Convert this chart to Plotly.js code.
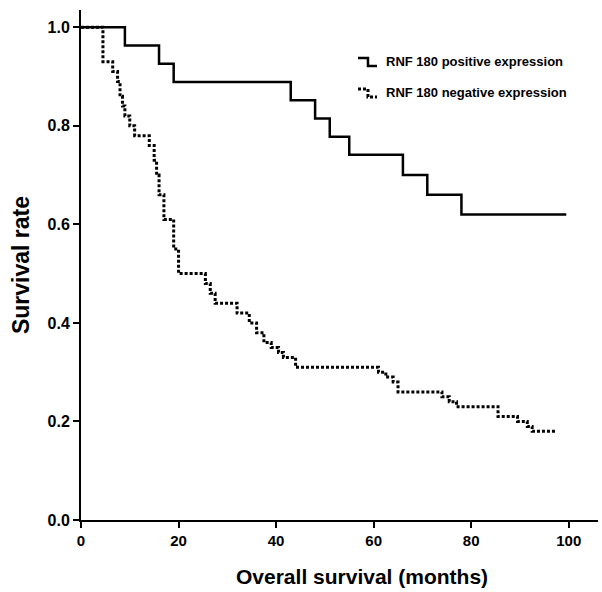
<!DOCTYPE html>
<html>
<head>
<meta charset="utf-8">
<script src="https://cdn.plot.ly/plotly-3.0.1.min.js"></script>
<style>html,body{margin:0;padding:0;background:#fff;}#chart{width:602px;height:592px;}</style>
</head>
<body>
<div id="chart"></div>
<script>
// RNF 180 positive expression (Kaplan-Meier steps)
const posTime = [0, 9, 16, 19, 43, 48, 51, 55, 66, 71, 78, 99.5];
const posSurv = [1.0, 0.963, 0.926, 0.889, 0.852, 0.815, 0.778, 0.741, 0.70, 0.66, 0.62, 0.62];

// RNF 180 negative expression
const negTime = [0, 4.5, 6.5, 7.5, 8, 8.5, 9, 10, 11, 12.5, 14, 15, 15.5, 16, 17, 19, 20, 25.5, 26.5, 27.5, 32, 34.5, 36, 37.5, 39, 40.5, 41.5, 44, 61, 62.5, 64, 65, 74, 75.5, 77, 85.5, 89.5, 91.5, 92.5, 97.3];
const negSurv = [1.0, 0.93, 0.91, 0.89, 0.86, 0.84, 0.82, 0.80, 0.78, 0.78, 0.76, 0.73, 0.70, 0.66, 0.61, 0.55, 0.50, 0.48, 0.46, 0.44, 0.42, 0.40, 0.38, 0.36, 0.35, 0.34, 0.33, 0.31, 0.30, 0.29, 0.28, 0.26, 0.25, 0.24, 0.23, 0.21, 0.20, 0.19, 0.18, 0.18];

const seriesNames = ["RNF 180 positive expression", "RNF 180 negative expression"];
const xTitle = "Overall survival (months)";
const yTitle = "Survival rate";
const xTicks = [0, 20, 40, 60, 80, 100];
const yTicks = [0, 0.2, 0.4, 0.6, 0.8, 1.0];

const FONT = "Liberation Sans, Arial, sans-serif";

const traces = [
  {x: posTime, y: posSurv, mode: "lines", line: {shape: "hv", color: "#000", width: 2.5}, name: seriesNames[0], showlegend: false},
  {x: negTime, y: negSurv, mode: "lines", line: {shape: "hv", color: "#000", width: 3, dash: "3px,2px"}, name: seriesNames[1], showlegend: false}
];

// legend drawn manually (pixel -> paper helper)
const L = 81, R = 598, T = 10, B = 520;
const px = X => (X - L) / (R - L);
const py = Y => (B - Y) / (B - T);
function stepPath(y0) {
  const pts = [[358, y0 - 4], [368, y0 - 4], [368, y0 + 4], [377, y0 + 4]];
  return "M" + pts.map(p => px(p[0]).toFixed(4) + "," + py(p[1]).toFixed(4)).join(" L");
}

const layout = {
  width: 602, height: 592,
  paper_bgcolor: "#fff", plot_bgcolor: "#fff",
  margin: {l: L, r: 602 - R, t: T, b: 592 - B},
  font: {family: FONT, color: "#000"},
  xaxis: {
    range: [0, 106], tickvals: xTicks, ticks: "outside", ticklen: 6, tickwidth: 2, tickcolor: "#000",
    showline: true, linewidth: 2, linecolor: "#000", showgrid: false, zeroline: false,
    tickfont: {family: FONT, size: 15, color: "#000", weight: "bold"}
  },
  yaxis: {
    range: [0, 1.035], tickvals: yTicks, tickformat: ".1f", ticks: "outside", ticklen: 6, tickwidth: 2, tickcolor: "#000",
    showline: true, linewidth: 2, linecolor: "#000", showgrid: false, zeroline: false,
    tickfont: {family: FONT, size: 16, color: "#000", weight: "bold"},
    title: {text: yTitle, font: {family: FONT, size: 23, color: "#000", weight: "bold"}, standoff: 11}
  },
  shapes: [
    {type: "path", xref: "paper", yref: "paper", path: stepPath(62), line: {color: "#000", width: 2.5}},
    {type: "path", xref: "paper", yref: "paper", path: stepPath(93), line: {color: "#000", width: 3, dash: "3px,2px"}}
  ],
  annotations: [
    {xref: "paper", yref: "paper", x: px(384), y: py(62), xanchor: "left", yanchor: "middle", showarrow: false,
     text: seriesNames[0], font: {family: FONT, size: 13, color: "#000", weight: "bold"}},
    {xref: "paper", yref: "paper", x: px(384), y: py(93), xanchor: "left", yanchor: "middle", showarrow: false,
     text: seriesNames[1], font: {family: FONT, size: 13, color: "#000", weight: "bold"}},
    {xref: "paper", yref: "paper", x: px(362), y: py(576), xanchor: "center", yanchor: "middle", showarrow: false,
     text: xTitle, font: {family: FONT, size: 21, color: "#000", weight: "bold"}}
  ],
  showlegend: false
};

Plotly.newPlot("chart", traces, layout, {displayModeBar: false, staticPlot: true});
</script>
</body>
</html>
